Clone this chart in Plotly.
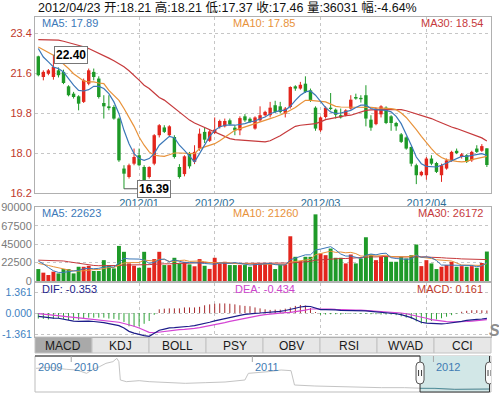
import plotly.graph_objects as go

W, H = 499, 397
def PX(x): return x / W
def PY(y): return 1 - y / H

# ---------------- data ----------------
last_date_label = "2012/04/23"
chg_pct = -4.64
month_labels = ["2012/01", "2012/02", "2012/03", "2012/04"]
month_start_idx = [20, 35, 56, 77]
price_ticks = [16.2, 18.0, 19.8, 21.6, 23.4]
vol_ticks = [0, 22500, 45000, 67500, 90000]
macd_ticks = [-1.361, 0.0, 1.361]
tab_names = ["MACD", "KDJ", "BOLL", "PSY", "OBV", "RSI", "WVAD", "CCI"]

open_ = [22.35,21.42,21.57,21.42,21.72,21.65,21.00,20.67,20.55,20.30,
21.12,21.65,21.35,20.25,20.10,20.07,19.55,17.30,16.92,17.52,
17.90,17.37,16.92,17.52,18.80,19.15,18.80,18.72,17.37,17.05,
17.95,17.60,18.20,18.95,18.55,18.90,19.17,19.20,19.47,19.14,
19.02,19.65,19.54,19.10,19.47,19.70,19.70,20.15,20.10,19.77,
20.07,21.00,20.90,21.12,20.82,20.04,19.02,19.62,20.04,19.95,
19.70,19.70,20.00,20.52,20.48,20.60,19.50,19.30,19.74,20.04,
19.65,19.35,18.84,18.70,18.27,17.45,17.00,17.00,17.75,17.55,
17.00,17.30,17.67,18.10,17.82,17.90,17.67,18.20,18.10,18.21]
high = [22.38,21.72,21.78,22.40,21.85,21.75,21.05,20.75,20.60,21.35,
21.80,21.80,21.45,20.60,20.60,20.15,19.60,17.45,17.52,18.20,
18.20,17.45,17.40,18.85,19.30,19.25,19.25,18.80,17.50,17.90,
18.05,18.35,19.10,19.15,19.05,19.60,19.50,19.55,19.55,19.25,
19.65,19.75,19.60,19.65,20.10,19.90,20.30,20.35,20.30,20.07,
21.00,21.05,21.20,21.45,20.90,20.10,19.65,20.10,20.70,20.00,
20.00,19.97,20.60,20.67,20.60,21.05,19.70,20.05,20.15,20.10,
19.70,19.40,18.90,18.75,18.30,17.52,17.20,17.82,17.90,17.60,
17.52,17.75,18.10,18.20,18.00,17.95,18.10,18.35,18.40,18.21]
low = [21.45,21.27,21.50,21.30,21.40,21.10,20.55,20.45,19.92,20.25,
21.05,21.27,20.45,19.55,19.92,19.50,17.60,16.39,16.85,17.45,
17.40,16.70,16.85,17.45,18.70,18.90,18.75,17.75,16.85,16.95,
17.30,17.50,18.10,18.45,18.50,18.85,19.10,19.15,19.25,18.80,
18.80,19.40,19.35,19.05,19.40,19.65,19.60,19.80,19.78,19.60,
20.00,20.80,20.85,20.70,20.30,19.00,18.95,19.55,19.92,19.55,
19.55,19.65,19.95,20.40,20.27,19.20,19.00,19.25,19.60,19.30,
19.00,19.00,18.45,18.15,17.40,16.60,16.95,16.80,17.45,17.10,
16.70,17.25,17.60,17.95,17.75,17.55,17.60,18.00,18.05,17.37]
close = [21.50,21.65,21.72,21.87,21.50,21.15,20.60,20.52,20.22,21.27,
21.72,21.42,20.52,20.10,20.02,19.55,17.67,17.07,17.45,17.82,
17.45,16.77,17.37,18.80,19.25,18.95,19.20,17.82,16.92,17.85,
17.40,18.05,18.87,18.60,18.97,19.05,19.44,19.44,19.29,19.02,
19.57,19.47,19.40,19.60,19.70,19.85,20.04,19.85,19.85,20.00,
20.97,20.90,21.07,20.75,20.37,19.10,19.60,20.04,19.98,19.72,
19.60,19.92,20.40,20.45,20.42,19.55,19.14,20.00,20.10,19.35,
19.35,19.20,18.50,18.20,17.52,17.00,17.15,17.75,17.52,17.15,
17.45,17.67,18.05,18.00,17.94,17.60,18.05,18.05,18.31,17.46]
ma5 = [22.70,22.32,22.10,21.87,21.80,21.65,21.35,21.05,20.82,20.79,
20.85,21.00,21.00,20.90,20.67,20.30,19.77,19.02,18.42,17.97,
17.75,17.67,17.75,17.97,18.35,18.57,18.75,18.69,18.35,18.12,
17.85,17.60,17.97,18.35,18.75,19.02,19.17,19.25,19.27,19.25,
19.29,19.32,19.40,19.44,19.54,19.62,19.77,19.85,19.92,19.92,
20.10,20.37,20.60,20.75,20.79,20.60,20.30,20.04,19.85,19.77,
19.80,19.85,19.92,20.05,20.15,20.15,20.00,19.95,19.95,19.92,
19.85,19.65,19.32,18.87,18.35,17.82,17.52,17.40,17.37,17.37,
17.45,17.55,17.64,17.75,17.85,17.85,17.90,17.94,17.97,17.89]
ma10 = [22.77,22.65,22.52,22.40,22.20,22.02,21.80,21.57,21.40,21.24,
21.20,21.20,21.15,21.12,20.82,20.60,20.37,20.00,19.62,19.20,
18.72,18.35,18.05,17.90,17.87,17.85,17.92,18.00,18.00,18.00,
18.00,17.97,18.20,18.27,18.35,18.42,18.55,18.70,18.85,19.02,
19.10,19.18,19.25,19.32,19.40,19.47,19.55,19.62,19.70,19.80,
19.92,20.05,20.22,20.37,20.37,20.34,20.32,20.30,20.20,20.10,
20.07,20.07,20.05,20.05,20.07,20.07,20.05,20.03,20.02,20.00,
20.00,19.95,19.80,19.60,19.35,19.05,18.75,18.45,18.20,17.95,
17.80,17.70,17.65,17.62,17.60,17.62,17.70,17.75,17.80,17.85]
ma30 = [23.10,23.10,23.10,23.10,23.08,23.03,22.97,22.92,22.85,22.78,
22.70,22.60,22.50,22.38,22.27,22.15,22.02,21.88,21.70,21.50,
21.28,21.05,20.90,20.70,20.50,20.38,20.20,20.03,19.86,19.67,
19.48,19.35,19.25,19.15,19.05,18.95,18.85,18.75,18.65,18.60,
18.58,18.57,18.57,18.55,18.52,18.50,18.55,18.65,18.78,18.92,
19.05,19.20,19.25,19.28,19.30,19.32,19.40,19.50,19.55,19.60,
19.65,19.68,19.70,19.78,19.85,19.92,19.94,19.95,19.96,19.96,
19.96,19.95,19.95,19.90,19.83,19.77,19.70,19.62,19.55,19.45,
19.35,19.25,19.17,19.10,19.02,18.95,18.87,18.78,18.68,18.54]
vol = [14600,10200,7300,11400,9300,14600,14600,9300,17400,17400,
18600,12200,12200,25500,19500,15400,42900,35700,21500,18600,
16200,35700,16200,26800,35700,19500,19500,28400,21500,23500,
20300,18000,26800,18600,14800,28400,21500,23500,19500,19500,
19500,19500,17400,21500,21500,21500,21500,14600,19500,20300,
54700,29600,24300,29600,29600,81500,33600,31600,39700,28400,
28400,21500,32400,21500,27600,53500,32400,25500,29600,29600,
23500,23500,29600,27600,31600,44600,18200,25500,21500,14600,
17400,19500,23500,17400,18200,17400,18200,16200,22000,36031]
vol_ma5 = [24300,21000,16500,12500,10500,10500,11500,11800,13000,15000,
15500,15000,15500,17000,17500,17000,23000,27800,27000,26800,
26800,25500,21600,22700,26100,26800,23500,25800,24500,22500,
22600,22600,22000,21400,20800,20500,22000,21500,21500,22500,
21400,20700,19500,20000,20500,21000,21500,20000,19500,19500,
26000,28000,30000,32000,32000,38000,39000,40500,42000,38000,
33000,30500,30500,29000,27500,31500,33000,32000,33500,34000,
28500,27500,27000,26500,27000,31500,29000,29500,28500,25000,
19500,19500,19500,18600,19200,19200,19000,17500,18500,22623]
vol_ma10 = [21500,20500,19000,17500,16000,14500,13500,12500,12000,12500,
13500,14000,14000,15500,16500,16500,19500,22000,22500,22500,
22500,25500,25000,24500,26500,26500,24000,24000,25000,25500,
24000,24000,24500,23500,22500,22500,22000,22500,22000,21000,
21000,21000,20500,20500,20500,20500,21000,20500,20000,20000,
23000,24000,24500,26000,26500,32000,33500,35000,36500,35000,
35500,34500,35000,33500,30500,30500,31500,30500,31000,31500,
30000,29500,29500,29500,30500,31500,29000,28500,27500,26000,
25500,24500,24500,22000,19500,19500,19500,19300,19000,21260]
vol_ma30 = [25500,25400,25300,25200,25000,24500,23500,22500,21500,20500,
19500,19000,18700,18600,18500,18500,19000,19500,19500,19500,
19500,20000,20000,20500,21000,21000,21000,21500,21500,21500,
22000,22000,22500,22500,22500,22500,22500,22000,22000,21500,
21500,21500,21500,21500,21500,21500,21500,21500,21300,21300,
22000,22500,23000,23500,24000,25500,26000,26500,27000,27500,
27500,27500,28000,28000,28500,29500,29500,29500,30000,30000,
29500,29500,29500,29500,29500,30000,29500,29500,29000,29000,
28500,28000,28000,27500,27000,27000,26500,26500,26200,26172]
dif = [-0.22,-0.27,-0.32,-0.33,-0.34,-0.40,-0.48,-0.52,-0.54,-0.52,
-0.53,-0.55,-0.58,-0.62,-0.69,-0.74,-0.82,-0.97,-1.19,-1.30,
-1.40,-1.47,-1.51,-1.34,-1.12,-1.04,-0.97,-0.95,-0.93,-0.88,
-0.86,-0.82,-0.76,-0.68,-0.60,-0.51,-0.43,-0.37,-0.32,-0.23,
-0.15,-0.09,-0.04,-0.02,0.00,0.02,0.04,0.08,0.11,0.16,
0.22,0.31,0.39,0.43,0.42,0.30,0.22,0.22,0.22,0.20,
0.17,0.17,0.17,0.17,0.17,0.14,0.11,0.08,0.04,0.02,
0.00,-0.05,-0.11,-0.20,-0.30,-0.45,-0.60,-0.66,-0.69,-0.70,
-0.71,-0.68,-0.65,-0.60,-0.54,-0.48,-0.43,-0.41,-0.39,-0.353]
dea = [-0.04,-0.08,-0.11,-0.14,-0.17,-0.21,-0.25,-0.29,-0.32,-0.35,
-0.38,-0.40,-0.43,-0.47,-0.51,-0.55,-0.60,-0.68,-0.76,-0.86,
-0.97,-1.12,-1.25,-1.28,-1.24,-1.18,-1.12,-1.10,-1.08,-1.06,
-1.04,-1.00,-0.95,-0.89,-0.82,-0.76,-0.69,-0.62,-0.54,-0.47,
-0.39,-0.32,-0.26,-0.20,-0.15,-0.10,-0.06,-0.03,0.00,0.02,
0.04,0.08,0.13,0.19,0.26,0.27,0.28,0.27,0.26,0.24,
0.22,0.20,0.19,0.19,0.19,0.17,0.15,0.12,0.09,0.07,
0.05,0.02,0.00,-0.05,-0.11,-0.18,-0.26,-0.34,-0.43,-0.49,
-0.54,-0.56,-0.58,-0.58,-0.58,-0.55,-0.52,-0.50,-0.48,-0.434]
macd_hist = [-0.36,-0.38,-0.42,-0.38,-0.34,-0.38,-0.46,-0.46,-0.44,-0.34,
-0.30,-0.30,-0.30,-0.30,-0.36,-0.38,-0.44,-0.58,-0.86,-0.88,
-0.86,-0.70,-0.52,-0.12,0.24,0.28,0.30,0.30,0.30,0.36,
0.36,0.36,0.40,0.50,0.56,0.60,0.62,0.62,0.60,0.56,
0.50,0.46,0.44,0.36,0.30,0.24,0.20,0.22,0.22,0.28,
0.36,0.46,0.52,0.48,0.32,0.06,-0.12,-0.10,-0.08,-0.08,
-0.10,-0.06,-0.04,-0.04,-0.06,-0.06,-0.08,-0.08,-0.10,-0.10,
-0.10,-0.14,-0.22,-0.30,-0.38,-0.54,-0.68,-0.64,-0.52,-0.42,
-0.34,-0.24,-0.14,-0.04,0.08,0.14,0.18,0.18,0.18,0.161]

nav_dates = ["2009-10-22","2009-11-19","2009-12-23","2010-01-12","2010-02-01","2010-02-14",
"2010-02-27","2010-03-12","2010-03-26","2010-04-03","2010-04-07","2010-04-10","2010-04-22",
"2010-05-18","2010-06-07","2010-07-10","2010-08-19","2010-09-28","2010-11-07","2010-12-17",
"2010-12-24","2011-02-02","2011-02-28","2011-03-20","2011-03-27","2011-05-07","2011-06-16",
"2011-07-26","2011-09-18","2011-11-04","2011-12-05","2012-01-04","2012-02-13","2012-03-15",
"2012-04-06","2012-04-23"]
nav_values = [42.3,43.5,41.1,40.3,36.3,41.1,44.3,48.3,50.3,54.3,50.3,28.3,26.3,
27.5,26.3,25.1,24.3,25.1,25.9,28.3,36.3,38.3,40.3,39.5,22.3,21.1,20.3,
19.5,19.1,19.1,18.3,18.3,17.1,17.3,17.5,17.46]
nav_year_labels = ["2009", "2010", "2011", "2012"]
nav_year_dates = ["2009-10-20", "2010-01-01", "2011-01-01", "2012-01-01"]
nav_range = ["2009-10-20", "2012-04-26"]
sel_start, sel_end = "2011-12-05", "2012-04-23"

# ---------------- style ----------------
RED = "#e3261d"; GREEN = "#1e9a28"
C5 = "#3c78b8"; C10 = "#e8923a"; C30 = "#c63a3c"
FONT = "Liberation Sans, Arial, Noto Sans CJK SC, sans-serif"
GRID = "#c6c6c6"; BORDER = "#b0b0b0"

fig = go.Figure()
n = len(close)
xi = list(range(n))
up = [close[i] >= open_[i] for i in xi]

# candles
for flag, col in ((True, RED), (False, GREEN)):
    idx = [i for i in xi if up[i] == flag]
    wx, wy = [], []
    for i in idx:
        wx += [i, i, None]
        wy += [low[i], high[i], None]
    fig.add_scatter(x=wx, y=wy, mode="lines", line=dict(color=col, width=1),
                    xaxis="x", yaxis="y", hoverinfo="skip")
    fig.add_bar(x=idx, y=[abs(close[i] - open_[i]) for i in idx],
                base=[min(open_[i], close[i]) for i in idx], width=0.68,
                marker=dict(color=col, line=dict(width=0)), xaxis="x", yaxis="y")
for arr, col in ((ma30, C30), (ma10, C10), (ma5, C5)):
    fig.add_scatter(x=xi, y=arr, mode="lines", line=dict(color=col, width=1.2),
                    xaxis="x", yaxis="y")

# volume
for flag, col in ((True, RED), (False, GREEN)):
    idx = [i for i in xi if up[i] == flag]
    fig.add_bar(x=idx, y=[vol[i] for i in idx], width=0.78,
                marker=dict(color=col, line=dict(width=0)), xaxis="x2", yaxis="y2")
for arr, col in ((vol_ma30, C30), (vol_ma10, C10), (vol_ma5, C5)):
    fig.add_scatter(x=xi, y=arr, mode="lines", line=dict(color=col, width=1),
                    xaxis="x2", yaxis="y2")

# macd
for sign, col in ((1, "#a5282c"), (-1, "#2ea238")):
    hx, hy = [], []
    for i in xi:
        if macd_hist[i] * sign > 0:
            hx += [i, i, None]
            hy += [0, macd_hist[i], None]
    fig.add_scatter(x=hx, y=hy, mode="lines", line=dict(color=col, width=1),
                    xaxis="x3", yaxis="y3")
fig.add_scatter(x=xi, y=dea, mode="lines", line=dict(color="#d444d4", width=1.2), xaxis="x3", yaxis="y3")
fig.add_scatter(x=xi, y=dif, mode="lines", line=dict(color="#1d1d8a", width=1.2), xaxis="x3", yaxis="y3")

# navigator
fig.add_scatter(x=nav_dates, y=nav_values, mode="lines", line=dict(color="#c4c4c4", width=1),
                xaxis="x4", yaxis="y4")
sel_d = [d for d in nav_dates if d >= sel_start]
sel_v = [v for d, v in zip(nav_dates, nav_values) if d >= sel_start]
fig.add_scatter(x=sel_d, y=sel_v, mode="lines", line=dict(color="#4d8e9b", width=1),
                xaxis="x4", yaxis="y4")

# ---------------- axes ----------------
xr = [-0.655, 89.82]
xbase = dict(domain=[PX(35), PX(491)], range=xr, showline=True, mirror=True,
             linecolor=BORDER, linewidth=1, zeroline=False, tickvals=month_start_idx,
             showgrid=True, gridcolor=GRID, griddash="3px,3px", gridwidth=1, ticks="",
             fixedrange=True)
ybase = dict(showline=True, mirror=True, linecolor=BORDER, linewidth=1, zeroline=False,
             showgrid=True, gridcolor=GRID, griddash="3px,3px", gridwidth=1, ticks="",
             fixedrange=True, automargin=False)
fig.update_layout(
    width=W, height=H, margin=dict(l=0, r=0, t=0, b=0, autoexpand=False),
    paper_bgcolor="white", plot_bgcolor="rgba(0,0,0,0)",
    showlegend=False, barmode="overlay", hovermode=False,
    font=dict(family=FONT, size=11),
    xaxis=dict(xbase, anchor="y", ticktext=month_labels,
               tickfont=dict(color="#2d6e96", size=11)),
    yaxis=dict(ybase, anchor="x", domain=[PY(193), PY(17)], range=[16.2, 24.12],
               tickvals=price_ticks, ticktext=[f"{v:.1f}" for v in price_ticks],
               tickfont=dict(color="#c0392b", size=11)),
    xaxis2=dict(xbase, anchor="y2", matches="x", showticklabels=False),
    yaxis2=dict(ybase, anchor="x2", domain=[PY(281), PY(207)], range=[0, 90500],
                tickvals=vol_ticks, ticktext=[str(v) for v in vol_ticks],
                tickfont=dict(color="#7a7a7a", size=11)),
    xaxis3=dict(xbase, anchor="y3", matches="x", showticklabels=False),
    yaxis3=dict(ybase, anchor="x3", domain=[PY(337), PY(283)], range=[-1.555, 1.944],
                tickvals=macd_ticks, ticktext=[f"{v:.3f}" for v in macd_ticks],
                tickfont=dict(color="#3d7fc1", size=10.5)),
    xaxis4=dict(type="date", anchor="y4", domain=[PX(35), PX(491)], range=nav_range,
                showgrid=False, showticklabels=False, showline=False, zeroline=False,
                fixedrange=True),
    yaxis4=dict(anchor="x4", domain=[PY(392), PY(356)], range=[13.9, 57.1], visible=False,
                fixedrange=True),
)

def txt(x, y, s, color, size=11, anchor="left", **kw):
    fig.add_annotation(xref="paper", yref="paper", x=PX(x), y=PY(y), text=s,
                       showarrow=False, xanchor=anchor, yanchor="middle",
                       font=dict(color=color, size=size, family=FONT), **kw)

# title and legends
txt(36, 7.5, f"{last_date_label} 开:{open_[-1]:.2f} 高:{high[-1]:.2f} 低:{low[-1]:.2f} "
    f"收:{close[-1]:.2f} 量:{vol[-1]} 幅:{chg_pct:.2f}%", "#111111", 12.5)
txt(40, 23.5, f"MA5: {ma5[-1]:.2f}", C5)
txt(231, 23.5, f"MA10: {ma10[-1]:.2f}", C10)
txt(485, 23.5, f"MA30: {ma30[-1]:.2f}", C30, anchor="right")
txt(40, 213.5, f"MA5: {vol_ma5[-1]}", C5)
txt(231, 213.5, f"MA10: {vol_ma10[-1]}", C10)
txt(485, 213.5, f"MA30: {vol_ma30[-1]}", C30, anchor="right")
txt(40, 288.5, f"DIF: {dif[-1]:.3f}", "#1d1d8a")
txt(233, 288.5, f"DEA: {dea[-1]:.3f}", "#cc44cc")
txt(485, 288.5, f"MACD: {macd_hist[-1]:.3f}", "#c0392b", anchor="right")

# high / low markers
hi_i = max(xi, key=lambda i: high[i])
lo_i = min(xi, key=lambda i: low[i])
for i, v, ax in ((hi_i, high[hi_i], 18), (lo_i, low[lo_i], 30)):
    fig.add_annotation(xref="x", yref="y", x=i, y=v, text=f"<b>{v:.2f}</b>",
                       showarrow=True, arrowhead=0, arrowwidth=1, arrowcolor="#555555",
                       ax=ax, ay=0, bordercolor="#777777", borderwidth=1, borderpad=1,
                       bgcolor="white", font=dict(color="#000000", size=12, family=FONT))

# tab bar
tw = 456 / len(tab_names)
for k, name in enumerate(tab_names):
    x0 = 35 + k * tw
    fig.add_shape(type="rect", xref="paper", yref="paper", x0=PX(x0), x1=PX(x0 + tw),
                  y0=PY(353), y1=PY(337), fillcolor="#a9a9a9" if k == 0 else "#e7e7e7",
                  line=dict(color="#c2c2c2", width=1), layer="below")
    txt(x0 + tw / 2, 345.5, name, "#1a1a1a", 12, anchor="center")

# navigator frame and selection
fig.add_shape(type="rect", xref="paper", yref="paper", x0=PX(35), x1=PX(491),
              y0=PY(392), y1=PY(356), line=dict(color="#bdbdbd", width=1), layer="below")
fig.add_shape(type="rect", xref="x4", yref="paper", x0=sel_start, x1=sel_end,
              y0=PY(392), y1=PY(356), fillcolor="#d2e7e7", line=dict(width=0), layer="below")
fig.add_shape(type="line", xref="x4", yref="paper", x0=nav_range[0], x1=sel_start,
              y0=PY(356), y1=PY(356), line=dict(color="#222222", width=1))
for d0, d1, y0, y1 in ((sel_start, sel_start, 356, 392), (sel_start, sel_end, 392, 392),
                       (sel_end, sel_end, 356, 392)):
    fig.add_shape(type="line", xref="x4", yref="paper", x0=d0, x1=d1, y0=PY(y0), y1=PY(y1),
                  line=dict(color="#333333", width=1))
for d in nav_year_dates[1:]:
    fig.add_shape(type="line", xref="x4", yref="paper", x0=d, x1=d, y0=PY(356), y1=PY(362),
                  line=dict(color="#a8a8a8", width=1))
for lab, d in zip(nav_year_labels, nav_year_dates):
    fig.add_annotation(xref="x4", yref="paper", x=d, y=PY(367), text=lab, showarrow=False,
                       xanchor="left", yanchor="middle", xshift=1,
                       font=dict(color="#3f7bb3", size=11, family=FONT))
cap = "M -4,-7 L -4,7 Q -4,11 0,11 Q 4,11 4,7 L 4,-7 Q 4,-11 0,-11 Q -4,-11 -4,-7 Z"
bars = "M -1.5,-3 L -1.5,3 M 1.5,-3 L 1.5,3"
for d in (sel_start, sel_end):
    fig.add_shape(type="path", xref="x4", yref="paper", xsizemode="pixel", ysizemode="pixel",
                  xanchor=d, yanchor=PY(373), path=cap, fillcolor="#fbfbfb",
                  line=dict(color="#555555", width=1))
    fig.add_shape(type="path", xref="x4", yref="paper", xsizemode="pixel", ysizemode="pixel",
                  xanchor=d, yanchor=PY(373), path=bars, line=dict(color="#444444", width=1))

# watermark fragment at right edge
txt(494, 330, "<b><i>S</i></b>", "#8e8e8e", 16, anchor="center")

fig.write_html("out.html", include_plotlyjs=True,
               config={"displayModeBar": False, "staticPlot": True},
               post_script="document.body.style.margin='0px';document.body.style.overflow='hidden';")
